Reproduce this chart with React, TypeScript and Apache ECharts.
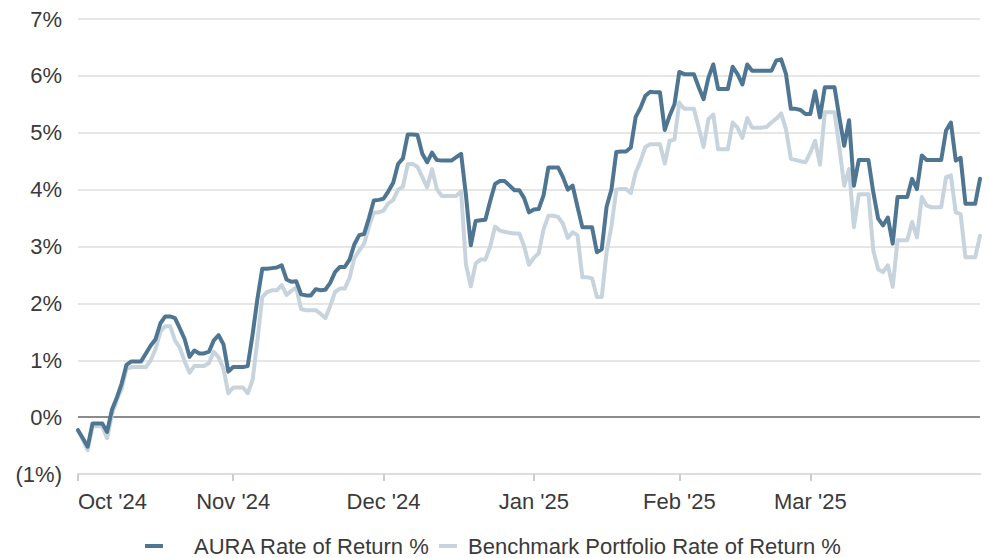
import React, { useEffect, useRef } from "react";
import * as echarts from "echarts";

const MONTH_LABELS = ["Oct '24", "Nov '24", "Dec '24", "Jan '25", "Feb '25", "Mar '25"];
const MONTH_POINTS = [32, 31, 31, 30, 27, 36];

const Y_TICKS = [-1, 0, 1, 2, 3, 4, 5, 6, 7];

const AURA = [
  -0.23, -0.37, -0.52, -0.11, -0.11, -0.11, -0.26, 0.13, 0.34, 0.59,
  0.92, 0.98, 0.98, 0.98, 1.12, 1.26, 1.37, 1.65, 1.77, 1.77,
  1.74, 1.56, 1.37, 1.06, 1.17, 1.12, 1.12, 1.15, 1.35, 1.44,
  1.28, 0.8, 0.88, 0.88, 0.88, 0.9, 1.45, 2.08, 2.61, 2.61,
  2.62, 2.63, 2.67, 2.42, 2.38, 2.39, 2.16, 2.14, 2.14, 2.25,
  2.23, 2.24, 2.36, 2.55, 2.64, 2.64, 2.77, 3.04, 3.2, 3.22,
  3.5, 3.81, 3.82, 3.84, 3.97, 4.12, 4.45, 4.55, 4.97, 4.97,
  4.96, 4.63, 4.48, 4.65, 4.52, 4.51, 4.51, 4.51, 4.57, 4.63,
  3.9, 3.02, 3.45, 3.46, 3.47, 3.8, 4.1, 4.15, 4.15, 4.07,
  3.99, 3.99, 3.85, 3.6, 3.65, 3.66, 3.9, 4.39, 4.39, 4.39,
  4.22, 4.0, 4.07, 3.7, 3.34, 3.34, 3.34, 2.9, 2.95, 3.7,
  4.0, 4.66, 4.67, 4.67, 4.74, 5.28, 5.44, 5.65, 5.72, 5.71,
  5.71, 5.05, 5.3, 5.5, 6.07, 6.03, 6.03, 6.03, 5.8, 5.59,
  5.97, 6.2, 5.77, 5.77, 5.77, 6.16, 6.03, 5.85, 6.2, 6.09,
  6.09, 6.09, 6.09, 6.09, 6.27, 6.29, 6.03, 5.42, 5.42, 5.4,
  5.33, 5.33, 5.73, 5.27, 5.8, 5.8, 5.8, 5.27, 4.77, 5.22,
  4.07, 4.52, 4.52, 4.52, 3.95, 3.49, 3.37, 3.51, 3.05, 3.87,
  3.87, 3.87, 4.19, 4.01, 4.6, 4.52, 4.52, 4.52, 4.52, 5.04,
  5.18, 4.51, 4.56, 3.75, 3.75, 3.75, 4.19,
];

const BENCHMARK = [
  -0.23, -0.4, -0.58, -0.16, -0.16, -0.16, -0.37, 0.05, 0.3, 0.5,
  0.85, 0.88, 0.88, 0.88, 0.88, 1.0, 1.2, 1.5, 1.6, 1.6,
  1.35, 1.22, 0.98, 0.78, 0.9, 0.9, 0.9, 0.95, 1.15, 1.05,
  0.85, 0.42, 0.52, 0.52, 0.52, 0.42, 0.65, 1.35, 2.11, 2.2,
  2.23, 2.23, 2.32, 2.15, 2.22, 2.28, 1.9, 1.88, 1.88, 1.88,
  1.82, 1.74, 1.95, 2.2, 2.26, 2.26, 2.45, 2.8, 2.93, 3.05,
  3.35, 3.6, 3.6, 3.63, 3.76, 3.82, 4.0, 4.05, 4.45, 4.45,
  4.4, 4.22, 4.04, 4.36, 4.01, 3.89, 3.89, 3.89, 3.89, 3.97,
  2.68, 2.3, 2.7, 2.77, 2.77, 3.0, 3.35, 3.28, 3.26, 3.24,
  3.23, 3.23, 3.0, 2.68, 2.8, 2.88, 3.3, 3.54, 3.54, 3.52,
  3.4, 3.15, 3.25, 3.2, 2.46, 2.46, 2.44, 2.11, 2.11, 2.9,
  3.35, 4.0, 4.01, 4.01, 3.94, 4.3, 4.5, 4.75, 4.8, 4.8,
  4.8, 4.46, 4.86, 4.88, 5.53, 5.42, 5.42, 5.42, 5.09, 4.75,
  5.24, 5.32, 4.71, 4.71, 4.71, 5.18, 5.09, 4.91, 5.26, 5.09,
  5.09, 5.09, 5.1, 5.18, 5.25, 5.34, 5.06, 4.54, 4.52, 4.5,
  4.48, 4.65, 4.86, 4.44, 5.36, 5.36, 5.36, 4.74, 4.07, 4.36,
  3.34, 3.92, 3.92, 3.92, 2.93, 2.6, 2.55, 2.67, 2.29, 3.11,
  3.11, 3.11, 3.43, 3.16, 3.87, 3.72, 3.69, 3.69, 3.69, 4.22,
  4.25, 3.6, 3.57, 2.81, 2.81, 2.81, 3.19,
];

const SERIES_NAMES = ["AURA Rate of Return %", "Benchmark Portfolio Rate of Return %"];

const CATEGORIES: string[] = [];
MONTH_LABELS.forEach((m, mi) => {
  for (let k = 0; k < MONTH_POINTS[mi]; k++) CATEGORIES.push(`${m}|${k}`);
});

const FONT = "'Liberation Sans', Arial, Helvetica, sans-serif";
const TEXT = "#3a3a3a";

export default function App() {
  const ref = useRef<HTMLDivElement>(null);
  useEffect(() => {
    if (!ref.current) return;
    const chart = echarts.init(ref.current, undefined, { renderer: "svg" });
    const isStart = (_: number, v: string) => v.endsWith("|0");
    chart.setOption({
      animation: false,
      backgroundColor: "#ffffff",
      textStyle: { fontFamily: FONT },
      grid: { left: 78, right: 10, top: 19, bottom: 84 },
      legend: {
        left: 145,
        top: 535,
        icon: "rect",
        itemWidth: 18,
        itemHeight: 4,
        itemGap: 9,
        padding: 0,
        textStyle: { color: TEXT, fontSize: 22, fontFamily: FONT },
        data: [
          { name: SERIES_NAMES[0], textStyle: { padding: [0, 0, 0, 26] } },
          { name: SERIES_NAMES[1], textStyle: { padding: [0, 0, 0, 6] } },
        ],
      },
      xAxis: {
        type: "category",
        data: CATEGORIES,
        boundaryGap: false,
        axisLine: { show: true, onZero: false, lineStyle: { color: "#dddddd", width: 2 } },
        axisTick: { show: true, interval: isStart, length: 7, lineStyle: { color: "#cccccc", width: 2 } },
        axisLabel: {
          interval: isStart,
          formatter: (v: string) => (v.endsWith("|0") ? v.split("|")[0] : ""),
          color: TEXT,
          fontSize: 22,
          fontFamily: FONT,
          margin: 16,
          alignMinLabel: "left",
        },
        splitLine: { show: false },
      },
      yAxis: {
        type: "value",
        min: Y_TICKS[0],
        max: Y_TICKS[Y_TICKS.length - 1],
        interval: 1,
        axisLine: { show: false },
        axisTick: { show: false },
        axisLabel: {
          color: TEXT,
          fontSize: 22,
          fontFamily: FONT,
          margin: 16,
          formatter: (v: number) => (v < 0 ? `(${Math.abs(v)}%)` : `${v}%`),
        },
        splitLine: {
          show: true,
          lineStyle: {
            width: 2,
            color: Y_TICKS.map((t) => (t === 0 ? "#8c8c8c" : "#e6e6e6")),
          },
        },
      },
      series: [
        {
          name: SERIES_NAMES[1],
          type: "line",
          data: BENCHMARK,
          symbol: "none",
          showSymbol: false,
          z: 2,
          itemStyle: { color: "#c7d4de" },
          lineStyle: { color: "#c7d4de", width: 4, join: "round", cap: "round" },
        },
        {
          name: SERIES_NAMES[0],
          type: "line",
          data: AURA,
          symbol: "none",
          showSymbol: false,
          z: 3,
          itemStyle: { color: "#4e7692" },
          lineStyle: { color: "#4e7692", width: 4, join: "round", cap: "round" },
        },
      ],
    });
    return () => chart.dispose();
  }, []);
  return (
    <div
      ref={ref}
      style={{ position: "fixed", left: 0, top: 0, width: 990, height: 558, background: "#fff" }}
    />
  );
}
